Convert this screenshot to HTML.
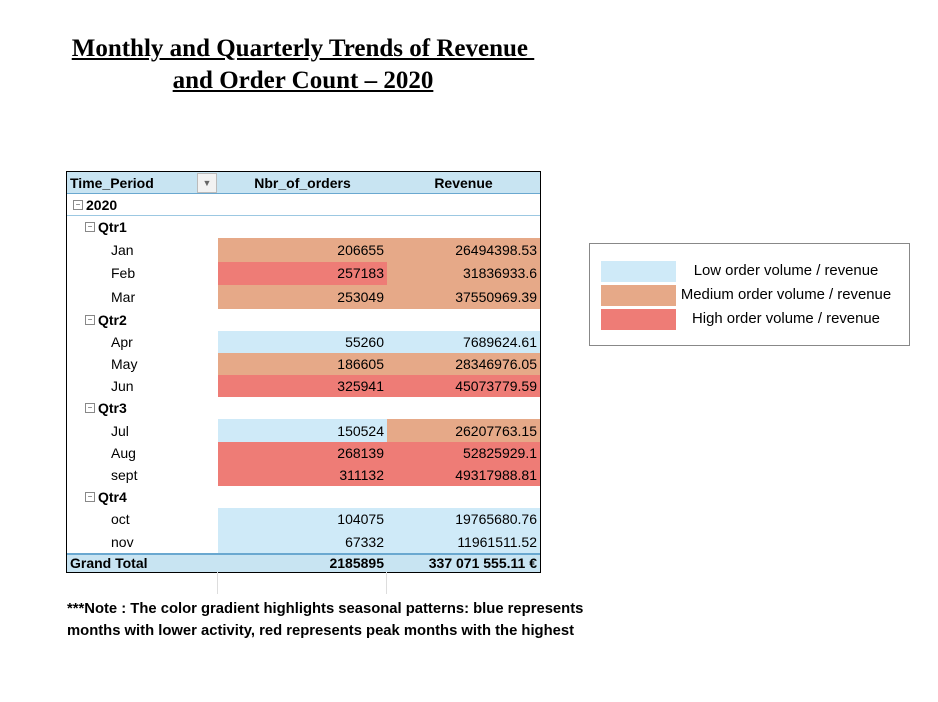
<!DOCTYPE html>
<html><head><meta charset="utf-8"><style>
body{margin:0;width:938px;height:702px;background:#fff;font-family:"Liberation Sans",sans-serif;position:relative;overflow:hidden}
.t{position:absolute;font-family:"Liberation Serif",serif;font-weight:bold;font-size:25px;text-decoration:underline;text-align:center;width:600px;left:3px}
#tbl{position:absolute;left:66px;top:171px;width:473px;height:400px;border:1px solid #000}
.c{position:absolute;font-size:14px;color:#000;box-sizing:border-box;white-space:nowrap;display:flex;align-items:center}
.num{justify-content:flex-end;padding-right:3px}
.b{font-weight:bold}
.lg{position:absolute;left:589px;top:243px;width:319px;height:101px;border:1px solid #888}
.sw{position:absolute;left:11px;width:75px;height:21px}
.lt{position:absolute;left:76px;width:240px;text-align:center;font-size:14.9px}
.mn{display:inline-block;width:8px;height:8px;border:1px solid #888;font-size:8px;line-height:7px;text-align:center;margin-right:3px;color:#444;font-weight:normal}
</style></head><body>
<div class="t" style="top:35px">Monthly and Quarterly Trends of Revenue&nbsp;</div>
<div class="t" style="top:67px">and Order Count – 2020</div>
<div id="tbl"></div>
<div style="position:absolute;left:217px;top:572px;width:1px;height:22px;background:#ddd"></div>
<div style="position:absolute;left:386px;top:572px;width:1px;height:22px;background:#ddd"></div>
<div class="lg">
<div class="sw" style="top:17px;background:#cfeaf8"></div><div class="lt" style="top:19px">Low order volume / revenue</div>
<div class="sw" style="top:41px;background:#e6a988"></div><div class="lt" style="top:43px">Medium order volume / revenue</div>
<div class="sw" style="top:65px;background:#ee7c76"></div><div class="lt" style="top:67px">High order volume / revenue</div>
</div>
<div style="position:absolute;left:67px;top:598px;font-size:14.8px;font-weight:bold;line-height:22px;width:600px">***Note : The color gradient highlights seasonal patterns: blue represents<br>months with lower activity, red represents peak months with the highest</div>
<script>
const months=["Jan","Feb","Mar","Apr","May","Jun","Jul","Aug","sept","oct","nov"];
const orders=[206655,257183,253049,55260,186605,325941,150524,268139,311132,104075,67332];
const revenue=["26494398.53","31836933.6","37550969.39","7689624.61","28346976.05","45073779.59","26207763.15","52825929.1","49317988.81","19765680.76","11961511.52"];
const quarters=["Qtr1","Qtr2","Qtr3","Qtr4"];
const totalOrders="2185895", totalRevenue="337 071 555.11 €";
const BL="#cfeaf8",OR="#e6a988",RD="#ee7c76";
function oc(v){return v<160000?BL:v<255000?OR:RD}
function rc(v){v=+v;return v<25e6?BL:v<40e6?OR:RD}
const tbl=document.getElementById('tbl');
function cell(x,y,w,h,txt,cls,bg){const d=document.createElement('div');d.className='c '+(cls||'');
d.style.cssText+=`left:${x}px;top:${y}px;width:${w}px;height:${h}px;`+(bg?`background:${bg};`:'');d.innerHTML=txt;tbl.appendChild(d);return d;}
const hh=cell(0,0,473,22,'','', '#c8e4f2');hh.style.borderBottom='1px solid #6aa8d0';
cell(3,0,140,22,'Time_Period','b');
const dd=cell(130,1,20,20,'<span style="font-size:9px;color:#666;margin:auto">▼</span>','', '#f2f2f2');dd.style.border='1px solid #bbb';
cell(151,0,169,22,'<span style="margin:auto">Nbr_of_orders</span>','b');
cell(320,0,153,22,'<span style="margin:auto">Revenue</span>','b');
let y=22;
const yr=cell(0,y,473,22,'<span class="mn">−</span>2020','b');yr.style.paddingLeft='6px';yr.style.borderBottom='1px solid #9cc8e2';
y+=22;
let mi=0;
quarters.forEach((q,qi)=>{
  const qc=cell(0,y,473,22,'<span class="mn">−</span>'+q,'b');qc.style.paddingLeft='18px';
  
  
  y+=22;
  const n=qi==3?2:3;
  for(let k=0;k<n;k++,mi++){
    const h=(mi<3)?23.5:22.3;
    const l=cell(44,y,100,h,months[mi]);
    
    
    const a=cell(151,y,169,h,orders[mi],'num',oc(orders[mi]));
    
    
    const b=cell(320,y,153,h,revenue[mi],'num',rc(revenue[mi]));
    
    
    y+=h;
  }
});
const gt=cell(0,381,473,19,'','', '#c8e4f2');gt.style.borderTop='2px solid #6aa8d0';
cell(3,381,140,19,'Grand Total','b');
cell(151,381,169,19,totalOrders,'b num');
cell(320,381,153,19,totalRevenue,'b num');
</script>
</body></html>
